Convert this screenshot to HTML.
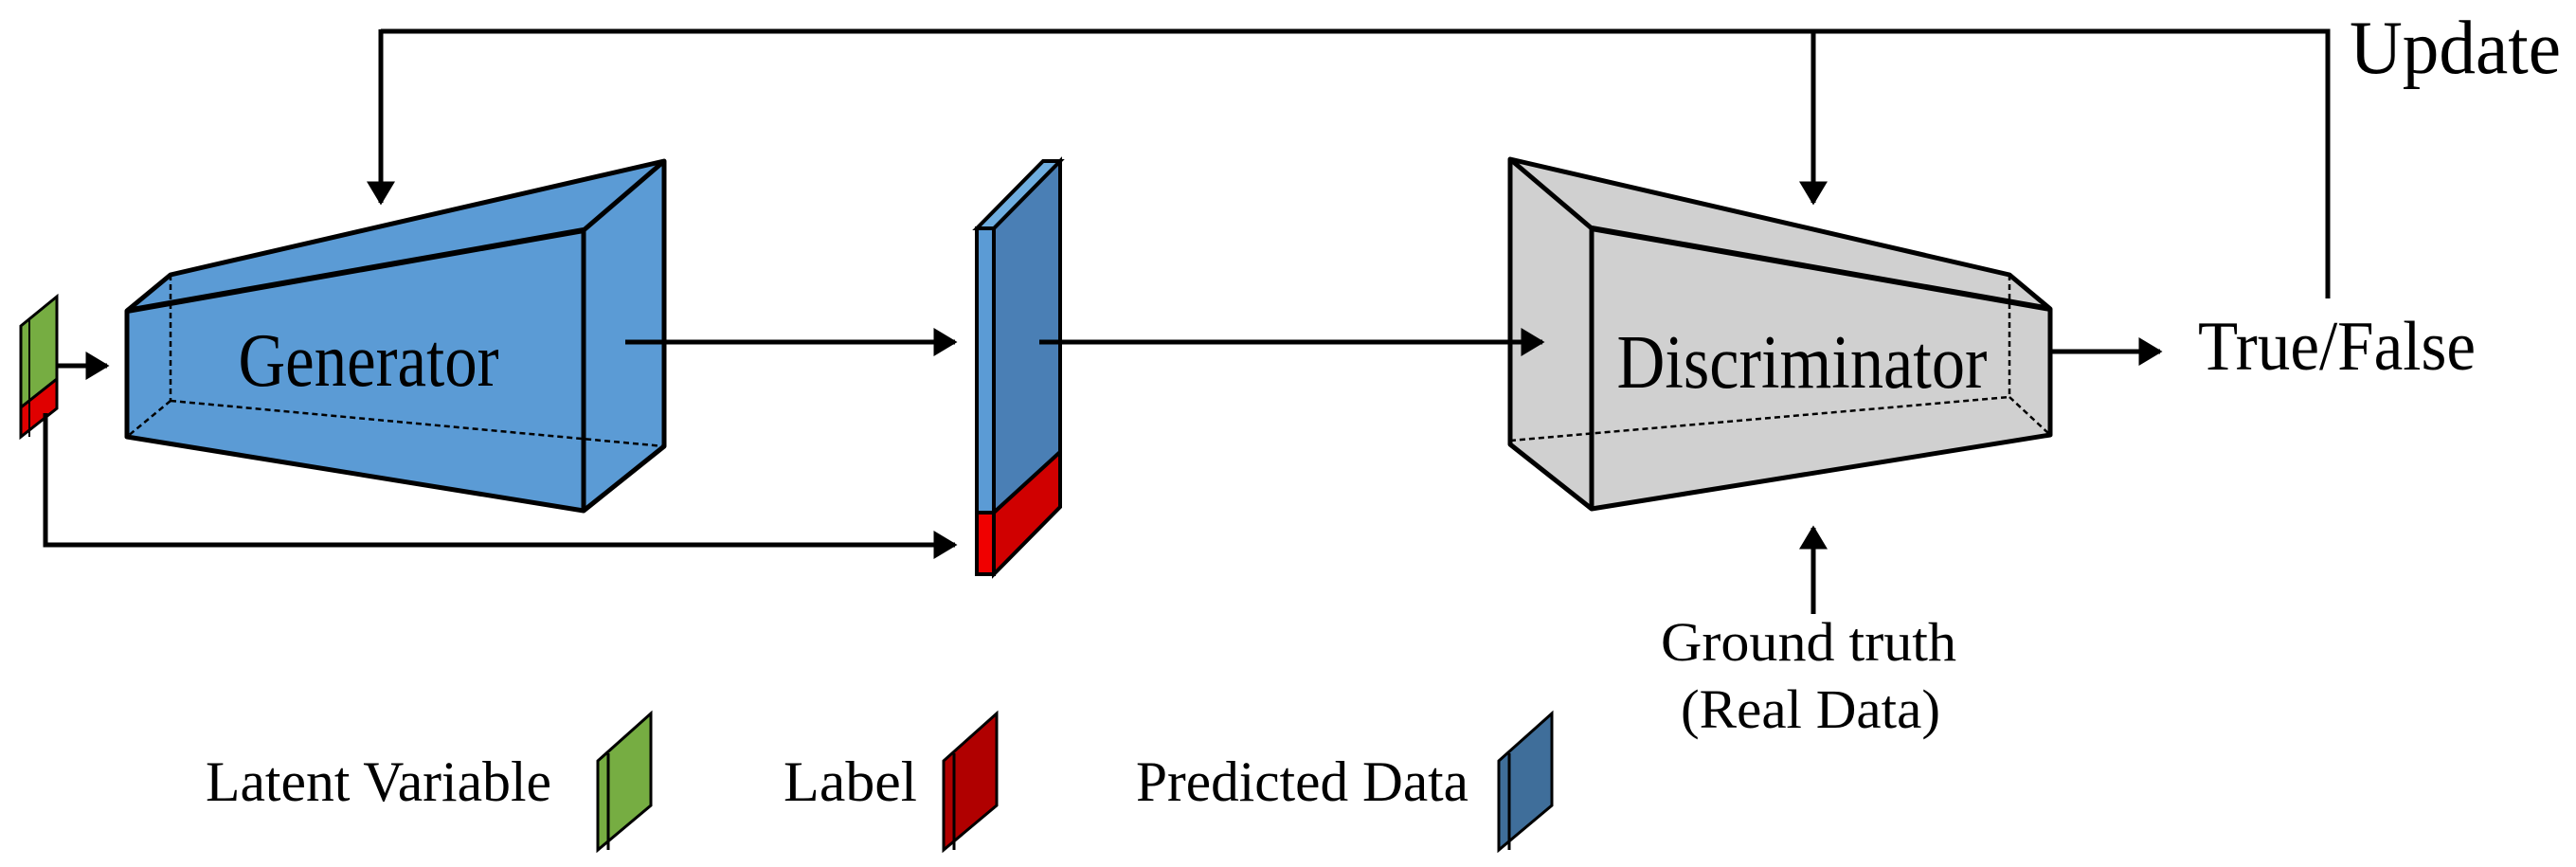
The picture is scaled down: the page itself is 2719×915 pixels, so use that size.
<!DOCTYPE html>
<html><head><meta charset="utf-8"><style>html,body{margin:0;padding:0;background:#fff}svg{display:block}</style></head>
<body>
<svg width="2719" height="915" viewBox="0 0 2719 915" xmlns="http://www.w3.org/2000/svg" font-family="'Liberation Serif', serif">
<defs>
<marker id="ah" markerWidth="6" markerHeight="6" refX="4.5" refY="3" orient="auto" markerUnits="strokeWidth">
<path d="M0,0 L5,3 L0,6 Z" fill="#000"/></marker>
</defs>
<!-- input block -->
<polygon points="22,344 60,313 60,400 22,430" fill="#76ad42" stroke="#000" stroke-width="3"/>
<polygon points="22,430 60,400 60,431 22,461" fill="#e00000" stroke="#000" stroke-width="3"/>
<line x1="31" y1="337" x2="31" y2="461" stroke="#000" stroke-width="2"/>
<!-- Generator -->
<polygon points="134,328 180,290 701,170 701,471 616,539 134,461" fill="#5b9bd5" stroke="#000" stroke-width="5" stroke-linejoin="round"/>
<g stroke="#000" stroke-width="2.5" stroke-dasharray="6,4" fill="none">
<line x1="180" y1="290" x2="180" y2="423"/><line x1="180" y1="423" x2="701" y2="471"/><line x1="180" y1="423" x2="134" y2="461"/>
</g>
<g stroke="#000" stroke-width="5" fill="none">
<line x1="134" y1="328" x2="616" y2="243" stroke-width="6"/><line x1="616" y1="243" x2="616" y2="539"/><line x1="616" y1="243" x2="701" y2="170"/>
</g>
<text x="389" y="407" font-size="80" text-anchor="middle" textLength="275" lengthAdjust="spacingAndGlyphs">Generator</text>
<!-- predicted slab -->
<polygon points="1049,241 1119,170 1119,477 1049,541" fill="#4a7fb5" stroke="#000" stroke-width="4"/>
<polygon points="1049,541 1119,477 1119,535 1049,606" fill="#d00000" stroke="#000" stroke-width="4"/>
<polygon points="1031,241 1049,241 1049,541 1031,541" fill="#5b9bd5" stroke="#000" stroke-width="4"/>
<polygon points="1031,541 1049,541 1049,606 1031,606" fill="#f00000" stroke="#000" stroke-width="4"/>
<polygon points="1031,241 1101,170 1119,170 1049,241" fill="#6faee0" stroke="#000" stroke-width="4"/>
<!-- Discriminator -->
<polygon points="1594,168 2121,290 2164,326 2164,459 1680,537 1594,469" fill="#d0d0d0" stroke="#000" stroke-width="5" stroke-linejoin="round"/>
<g stroke="#000" stroke-width="2.5" stroke-dasharray="6,4" fill="none">
<line x1="2121" y1="290" x2="2121" y2="419"/><line x1="1594" y1="465" x2="2121" y2="419"/><line x1="2121" y1="419" x2="2164" y2="459"/>
</g>
<g stroke="#000" stroke-width="5" fill="none">
<line x1="1680" y1="241" x2="2164" y2="326" stroke-width="6"/><line x1="1594" y1="168" x2="1680" y2="241"/><line x1="1680" y1="241" x2="1680" y2="537"/>
</g>
<text x="1902" y="409" font-size="80" text-anchor="middle" textLength="391" lengthAdjust="spacingAndGlyphs">Discriminator</text>
<!-- connectors on top -->
<g stroke="#000" stroke-width="5" fill="none">
<polyline points="402,33 2457,33 2457,315"/>
<line x1="402" y1="31" x2="402" y2="214" marker-end="url(#ah)"/>
<line x1="1914" y1="33" x2="1914" y2="214" marker-end="url(#ah)"/>
<polyline points="48,436 48,575 1008,575" marker-end="url(#ah)"/>
<line x1="60" y1="386" x2="113" y2="386" marker-end="url(#ah)"/>
<line x1="660" y1="361" x2="1008" y2="361" marker-end="url(#ah)"/>
<line x1="1097" y1="361" x2="1628" y2="361" marker-end="url(#ah)"/>
<line x1="2164" y1="371" x2="2280" y2="371" marker-end="url(#ah)"/>
<line x1="1914" y1="648" x2="1914" y2="557" marker-end="url(#ah)"/>
</g>
<text x="2480" y="77" font-size="80" textLength="223" lengthAdjust="spacingAndGlyphs">Update</text>
<text x="2320" y="390" font-size="74" textLength="293" lengthAdjust="spacingAndGlyphs">True/False</text>
<text x="1753" y="697" font-size="58" textLength="312" lengthAdjust="spacingAndGlyphs">Ground truth</text>
<text x="1774" y="768" font-size="58" textLength="274" lengthAdjust="spacingAndGlyphs">(Real Data)</text>
<!-- legend -->
<text x="217" y="845" font-size="60" textLength="365" lengthAdjust="spacingAndGlyphs">Latent Variable</text>
<text x="827" y="845" font-size="60" textLength="141" lengthAdjust="spacingAndGlyphs">Label</text>
<text x="1199" y="845" font-size="60" textLength="351" lengthAdjust="spacingAndGlyphs">Predicted Data</text>
<g stroke="#000" stroke-width="3">
<polygon points="631,803 687,753 687,850 631,897" fill="#76ad42"/><line x1="642" y1="795" x2="642" y2="897"/>
<polygon points="996,803 1052,753 1052,850 996,897" fill="#b00000"/><line x1="1007" y1="795" x2="1007" y2="897"/>
<polygon points="1582,803 1638,753 1638,850 1582,897" fill="#3f6e9a"/><line x1="1593" y1="795" x2="1593" y2="897"/>
</g>
</svg>
</body></html>
